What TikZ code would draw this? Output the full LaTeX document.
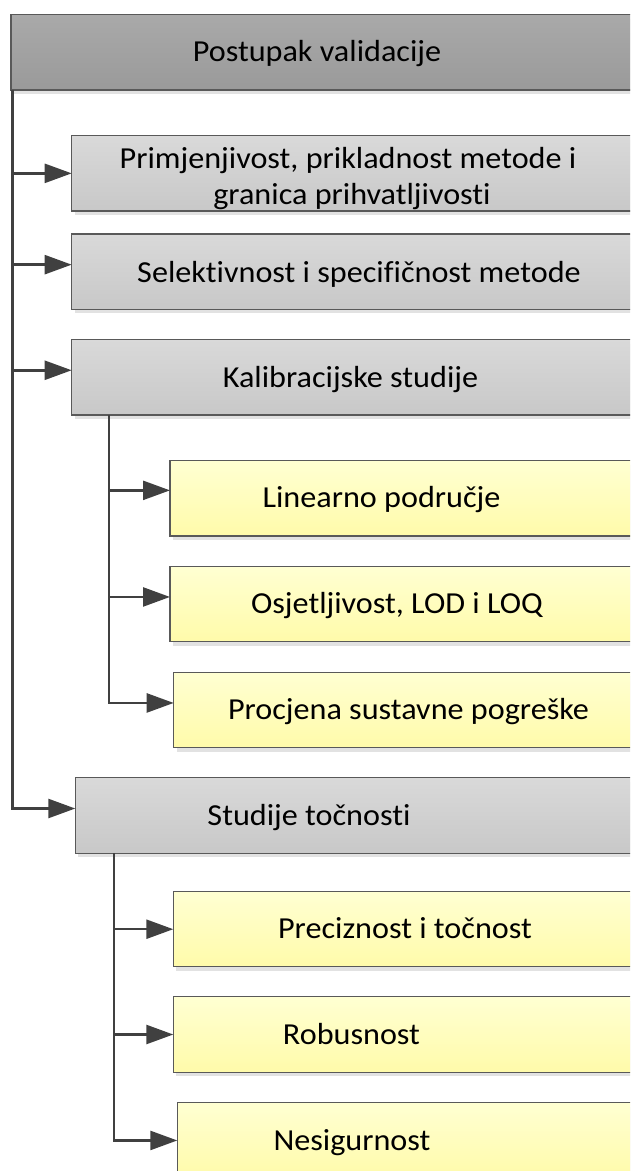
\documentclass[tikz,border=0pt]{standalone}
\usepackage{fontspec}
\setmainfont{Carlito}[FakeStretch=1.055, Ligatures=CommonOff]
\usetikzlibrary{arrows.meta,shadows}
\definecolor{edgec}{HTML}{595959}
\definecolor{connc}{HTML}{404040}
\definecolor{shadowc}{HTML}{E2E2E2}
\definecolor{topA}{HTML}{A9A9A9}
\definecolor{topB}{HTML}{9A9A9A}
\definecolor{grayA}{HTML}{D9D9D9}
\definecolor{grayB}{HTML}{C8C8C8}
\definecolor{yelA}{HTML}{FFFFD2}
\definecolor{yelB}{HTML}{FFFBAA}
\begin{document}
\begin{tikzpicture}[x=1pt,y=-1pt,
  box/.style={draw=edgec, line width=1.2pt, rectangle, anchor=north west,
    inner sep=0pt, outer sep=0pt,
    drop shadow={shadow xshift=3pt,shadow yshift=-4pt,fill=shadowc,opacity=1}},
  topbox/.style={box, top color=topA, bottom color=topB},
  graybox/.style={box, top color=grayA, bottom color=grayB},
  yelbox/.style={box, top color=yelA, bottom color=yelB},
  lbl/.style={anchor=base, font=\fontsize{30.5}{36}\selectfont, inner sep=0pt, text=black},
  trunk/.style={draw=connc, line width=2.5pt},
  conn/.style={trunk, -{Triangle[length=27pt,width=19pt]}}]
\useasboundingbox (0,0) rectangle (630,1171);
\clip (0,0) rectangle (630,1171);
% boxes
\node[topbox, minimum width=629pt, minimum height=75.3pt] (top) at (11,14.7) {};
\node[graybox, minimum width=568.3pt, minimum height=75.3pt] (b1) at (71.7,135.7) {};
\node[graybox, minimum width=568.3pt, minimum height=75.3pt] (b2) at (71.7,234) {};
\node[graybox, minimum width=568.3pt, minimum height=75.5pt] (b3) at (71.7,339.5) {};
\node[yelbox, minimum width=470pt, minimum height=75.3pt] (ya) at (170,460.7) {};
\node[yelbox, minimum width=470pt, minimum height=75.3pt] (yb) at (170,566.3) {};
\node[yelbox, minimum width=466.3pt, minimum height=75.5pt] (yc) at (173.7,672.2) {};
\node[graybox, minimum width=564.7pt, minimum height=75.6pt] (st) at (75.3,777.7) {};
\node[yelbox, minimum width=466.7pt, minimum height=75pt] (yd) at (173.3,891.7) {};
\node[yelbox, minimum width=466.7pt, minimum height=75.6pt] (ye) at (173.3,996.7) {};
\node[yelbox, minimum width=462.7pt, minimum height=75.5pt] (yf) at (177.3,1102.7) {};
% labels
\node[lbl] (ttop) at (317,61.7) {Postupak validacije};
\node[lbl] (tb1a) at (348,168) {Primjenjivost, prikladnost metode i};
\node[lbl] (tb1b) at (352,204) {granica prihvatljivosti};
\node[lbl] (tb2) at (359,282) {Selektivnost i specifičnost metode};
\node[lbl] (tb3) at (350.5,387) {Kalibracijske studije};
\node[lbl] (tya) at (381.5,507.6) {Linearno područje};
\node[lbl] (tyb) at (397,613) {Osjetljivost, LOD i LOQ};
\node[lbl] (tyc) at (408.5,719) {Procjena sustavne pogreške};
\node[lbl] (tst) at (309,825) {Studije točnosti};
\node[lbl] (tyd) at (405,938.5) {Preciznost i točnost};
\node[lbl] (tye) at (351.5,1044) {Robusnost};
\node[lbl] (tyf) at (352,1150) {Nesigurnost};
% connectors
\draw[conn] ([xshift=1.5pt]top.south west) |- (b1.west);
\draw[conn] ([xshift=1.5pt]top.south west) |- ([yshift=7pt]b2.west);
\draw[conn] ([xshift=1.5pt]top.south west) |- ([yshift=7pt]b3.west);
\draw[conn] ([xshift=1.5pt]top.south west) |- ([yshift=7pt]st.west);
\draw[conn] ([xshift=37.5pt]b3.south west) |- ([yshift=8pt]ya.west);
\draw[conn] ([xshift=37.5pt]b3.south west) |- ([yshift=7pt]yb.west);
\draw[conn] ([xshift=37.5pt]b3.south west) |- ([yshift=7pt]yc.west);
\draw[conn] ([xshift=38.7pt]st.south west) |- (yd.west);
\draw[conn] ([xshift=38.7pt]st.south west) |- (ye.west);
\draw[conn] ([xshift=38.7pt]st.south west) |- (yf.west);
\end{tikzpicture}
\end{document}
